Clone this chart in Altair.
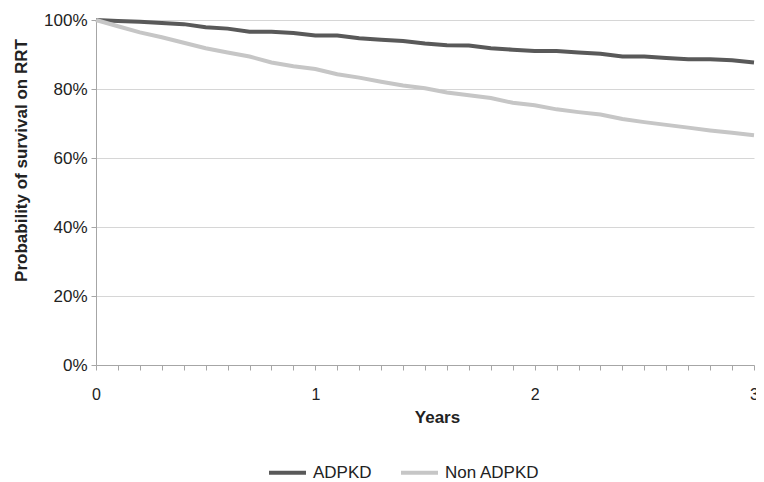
import altair as alt
import pandas as pd

years = [round(i * 0.1, 1) for i in range(31)]
adpkd = [100, 99.7, 99.5, 99.1, 98.8, 97.9, 97.5, 96.6, 96.6, 96.2, 95.5,
         95.5, 94.7, 94.3, 93.9, 93.2, 92.7, 92.6, 91.8, 91.4, 91.0,
         91.0, 90.6, 90.2, 89.4, 89.4, 89.0, 88.6, 88.6, 88.3, 87.7]
non_adpkd = [100, 98.2, 96.4, 95.0, 93.4, 91.8, 90.6, 89.4, 87.7, 86.6, 85.8,
             84.3, 83.3, 82.1, 81.0, 80.2, 79.0, 78.2, 77.4, 76.0, 75.3,
             74.1, 73.3, 72.6, 71.3, 70.4, 69.6, 68.8, 68.0, 67.3, 66.6]
groups = ["ADPKD", "Non ADPKD"]
y_ticks = [0, 0.2, 0.4, 0.6, 0.8, 1.0]

df = pd.DataFrame({
    "Years": years * 2,
    "Survival": [v / 100 for v in adpkd + non_adpkd],
    "Group": [groups[0]] * len(years) + [groups[1]] * len(years),
})

FONT = "Liberation Sans"

chart = alt.Chart(df).mark_line(strokeWidth=4, interpolate="linear").encode(
    x=alt.X("Years:Q",
            scale=alt.Scale(domain=[0, 3], nice=False),
            axis=alt.Axis(values=years,
                          labelExpr="datum.value % 1 == 0 ? format(datum.value, 'd') : ''",
                          labelFlush=False, labelOverlap=False, labelBound=False,
                          grid=False, tickSize=5, labelPadding=16, labelFontSize=16,
                          labelFont=FONT, labelColor="#222222",
                          domainColor="#a6a6a6", tickColor="#a6a6a6",
                          title="Years", titleFont=FONT, titleFontSize=17,
                          titleFontWeight="bold", titleColor="#222222",
                          titleX=341, titleY=52, titleBaseline="middle")),
    y=alt.Y("Survival:Q",
            scale=alt.Scale(domain=[0, 1], nice=False),
            axis=alt.Axis(values=y_ticks, format="%", grid=True, gridColor="#d6d6d6",
                          tickSize=5, labelPadding=4, labelFontSize=17, labelFont=FONT,
                          labelColor="#222222", domainColor="#a6a6a6", tickColor="#a6a6a6",
                          title="Probability of survival on RRT", titleFont=FONT,
                          titleFontSize=17, titleFontWeight="bold", titleColor="#222222",
                          titleX=-75, titleY=140, titleAngle=270, titleAlign="center",
                          titleBaseline="middle")),
    color=alt.Color("Group:N",
                    scale=alt.Scale(domain=groups, range=["#595959", "#c6c6c6"]),
                    legend=alt.Legend(title=None, orient="none", legendX=171, legendY=432,
                                      direction="horizontal", symbolType="stroke",
                                      symbolSize=1369, symbolStrokeWidth=4,
                                      labelFontSize=17, labelFont=FONT, labelColor="#222222",
                                      labelOffset=5, columnPadding=21)),
).properties(
    width=658, height=345,
    padding={"left": 88, "top": 12, "right": 2, "bottom": 117},
    autosize=alt.AutoSizeParams(type="none"),
).configure_view(stroke=None)

chart.save("out.html", embed_options={"renderer": "svg", "actions": False})
